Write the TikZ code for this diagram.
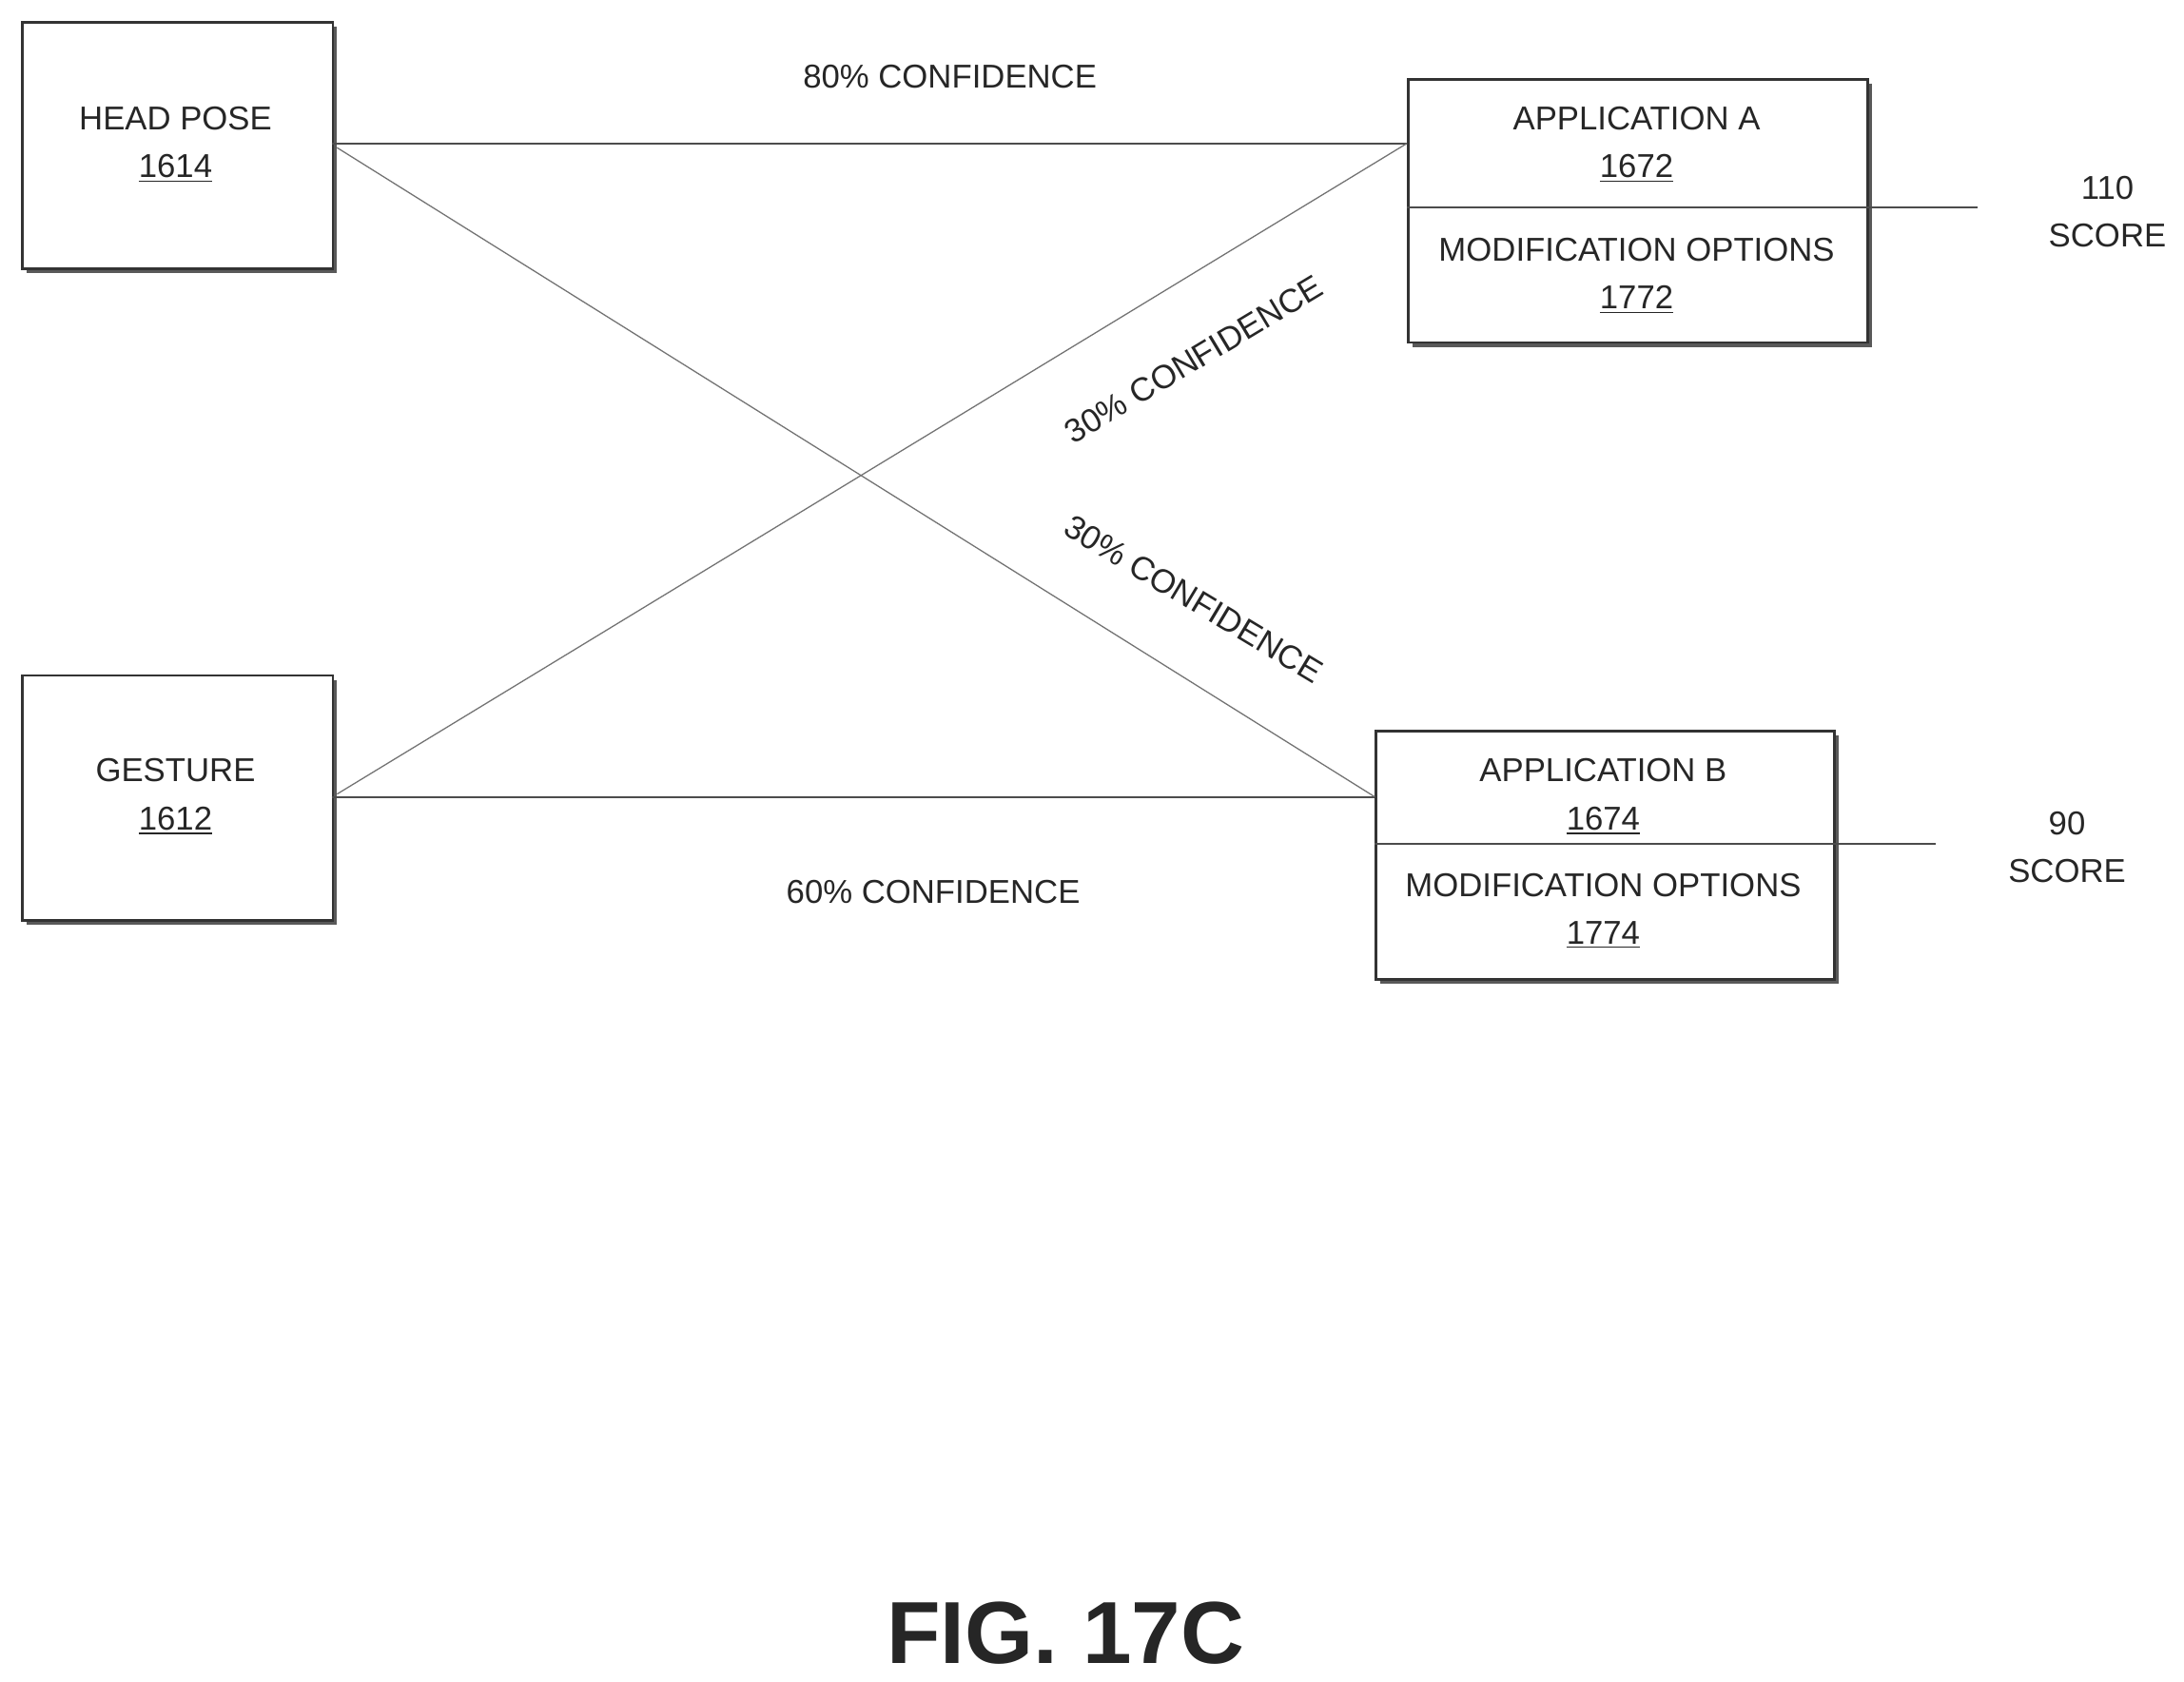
\documentclass[tikz,border=0pt]{standalone}
\usepackage{fontspec}
\setmainfont{Liberation Sans}
\begin{document}
\begin{tikzpicture}[x=0.02cm,y=-0.02cm,
 box/.style={draw=black!80,line width=1pt,fill=white},
 shad/.style={fill=black!65},
 txt/.style={font=\fontsize{13.5}{19.5}\selectfont,text=black!85,align=center},
 ln/.style={draw=black!70,line width=0.8pt},
 thin/.style={draw=black!55,line width=0.5pt}]
\useasboundingbox (0,0) rectangle (1568,1207);
% shadows
\foreach \a/\b/\c/\d in {15/15/238/192, 15/484/238/660, 1010/56/1340/245, 987/524/1316/702}
 {\fill[shad] (\a+4,\b+4) rectangle (\c+4,\d+4);}
\node[box,minimum width=223*0.02cm,minimum height=177*0.02cm,anchor=north west] (hp) at (15,15) {};
\node[box,minimum width=223*0.02cm,minimum height=176*0.02cm,anchor=north west] (ge) at (15,484) {};
\node[box,minimum width=330*0.02cm,minimum height=189*0.02cm,anchor=north west] (aa) at (1010,56) {};
\node[box,minimum width=329*0.02cm,minimum height=178*0.02cm,anchor=north west] (ab) at (987,524) {};
\draw[ln] (1010,149) -- (1340,149);
\draw[ln] (987,606) -- (1316,606);
\node[txt] (t1) at (126,104) {HEAD POSE\\\underline{1614}};
\node[txt] (t2) at (126,572) {GESTURE\\\underline{1612}};
\node[txt] (t3) at (1175,104) {APPLICATION A\\\underline{1672}};
\node[txt] (t4) at (1175,198) {MODIFICATION OPTIONS\\\underline{1772}};
\node[txt] (t5) at (1151,572) {APPLICATION B\\\underline{1674}};
\node[txt] (t6) at (1151,654) {MODIFICATION OPTIONS\\\underline{1774}};
\coordinate (hpR) at (238,103); \coordinate (aaL) at (1010,103);
\coordinate (geR) at (238,572); \coordinate (abL) at (987,572);
\draw[ln] (hpR) -- (aaL);
\draw[ln] (geR) -- (abL);
\draw[thin] (242,106) -- (abL);
\draw[thin] (242,570) -- (aaL);
\coordinate (sa) at (1420,149); \coordinate (sb) at (1390,606);
\draw[ln] (1340,149) -- (sa);
\draw[ln] (1316,606) -- (sb);
\node[txt] (s1) at (1513,152) {110\\SCORE};
\node[txt] (s2) at (1484,608) {90\\SCORE};
\node[txt] (c1) at (682,55) {80\% CONFIDENCE};
\node[txt] (c2) at (670,640) {60\% CONFIDENCE};
\node[txt,rotate=31] (c3) at (857,258) {30\% CONFIDENCE};
\node[txt,rotate=-31] (c4) at (857,430) {30\% CONFIDENCE};
\node[font=\bfseries\fontsize{36}{40}\selectfont,text=black!85] (fig) at (765,1172) {FIG. 17C};
\end{tikzpicture}
\end{document}
